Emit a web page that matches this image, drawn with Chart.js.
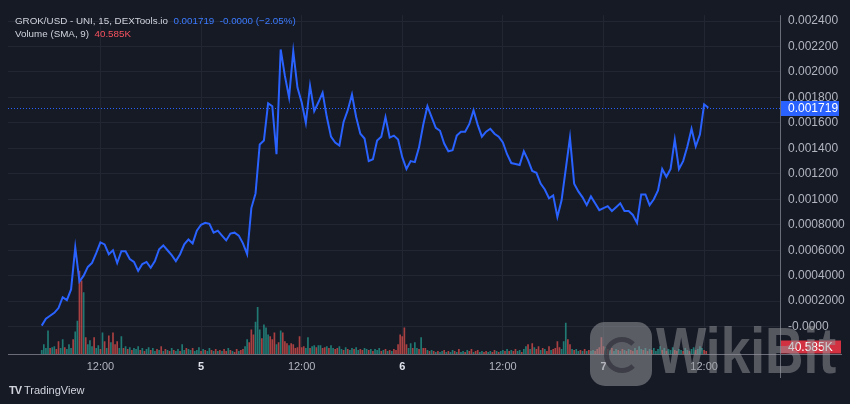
<!DOCTYPE html>
<html>
<head>
<meta charset="utf-8">
<script src="https://cdn.jsdelivr.net/npm/chart.js@4"></script>
<style>
  html, body { margin: 0; padding: 0; background: #161a25; }
  #wrap { position: relative; width: 850px; height: 404px; overflow: hidden; }
  #chart { position: absolute; left: 0; top: 0; }
  .txt { position: absolute; white-space: nowrap; font-family: "Liberation Sans", Arial, sans-serif; font-size: 9.8px; color: #d1d4dc; }
  .blue { color: #3b7bff; }
  .red { color: #f7525f; }
  #wm-icon { position: absolute; left: 590px; top: 322px; width: 62px; height: 64px; border-radius: 15px; background: rgba(150,150,155,0.55); }
  #wm-icon div { position: absolute; left: 14px; top: 15px; width: 26px; height: 26px; border: 5px solid rgba(40,42,50,0.6); border-radius: 50%; border-right-color: transparent; }
  #wm-text { position: absolute; left: 656px; top: 313px; font: bold 65px "Liberation Sans", Arial, sans-serif; color: rgba(150,150,155,0.5); transform: scaleX(0.82); transform-origin: 0 0; }
</style>
</head>
<body>
<div id="wrap">
  <canvas id="chart" width="850" height="404"></canvas>
  <div class="txt" style="left:15px;top:15px">GROK/USD - UNI, 15, DEXTools.io &nbsp;<span class="blue">0.001719 &nbsp;-0.0000 (−2.05%)</span></div>
  <div class="txt" style="left:15px;top:28px">Volume (SMA, 9) &nbsp;<span class="red">40.585K</span></div>
  <div class="txt" style="left:9px;top:384px;font-size:11px"><b style="letter-spacing:-1px">TV</b> TradingView</div>
  <div id="wm-icon"><div></div></div>
  <div id="wm-text">WikiBit</div>
</div>
<script>
// 15m chart, 4-7 Nov. x axis in hours since 4 Nov 00:00
const startHour = 5;
const priceStep = 0.5;   // one reading every 30 min
const prices = [
  0.000008,0.000062,0.000085,0.000108,0.000146,0.000231,0.000208,0.000292,0.000623,0.000354,
  0.000400,0.000469,0.000500,0.000577,0.000662,0.000646,0.000569,0.000600,0.000500,0.000592,
  0.000592,0.000531,0.000508,0.000438,0.000492,0.000508,0.000462,0.000515,0.000608,0.000638,
  0.000600,0.000562,0.000515,0.000569,0.000646,0.000685,0.000654,0.000754,0.000800,0.000815,
  0.000808,0.000738,0.000754,0.000715,0.000677,0.000731,0.000738,0.000715,0.000654,0.000569,
  0.000931,0.001046,0.001431,0.001462,0.001754,0.001731,0.001354,0.002177,0.001969,0.001800,
  0.002162,0.001877,0.001762,0.001600,0.001892,0.001692,0.001762,0.001838,0.001646,0.001492,
  0.001446,0.001423,0.001608,0.001700,0.001823,0.001646,0.001515,0.001477,0.001300,0.001315,
  0.001462,0.001492,0.001646,0.001485,0.001500,0.001469,0.001331,0.001238,0.001300,0.001292,
  0.001408,0.001585,0.001731,0.001646,0.001562,0.001538,0.001438,0.001377,0.001385,0.001500,
  0.001531,0.001531,0.001592,0.001700,0.001585,0.001492,0.001531,0.001554,0.001515,0.001492,
  0.001446,0.001354,0.001285,0.001277,0.001269,0.001377,0.001308,0.001223,0.001208,0.001123,
  0.001077,0.001008,0.001031,0.000862,0.000992,0.001238,0.001485,0.001123,0.001062,0.001015,
  0.000954,0.001023,0.000969,0.000915,0.000931,0.000946,0.000908,0.000938,0.000969,0.000908,
  0.000908,0.000877,0.000815,0.001038,0.001038,0.000954,0.001000,0.001069,0.001238,0.001177,
  0.001238,0.001469,0.001238,0.001300,0.001415,0.001554,0.001415,0.001508,0.001746,0.001719
];

const volStep = 0.25;    // 15 min bars
// volume in K
const volumes = [
  32,80,48,192,48,56,64,40,104,48, 120,56,40,80,48,120,184,272,680,600,
  504,136,80,112,64,136,48,72,40,176, 104,48,152,96,176,80,104,48,144,48,
  64,40,56,32,48,40,64,32,48,24, 40,56,32,48,24,40,32,64,24,40,
  32,24,48,32,24,40,24,80,32,48, 40,32,48,24,32,56,24,40,32,24,
  48,32,24,40,24,32,24,40,24,48, 32,24,16,40,24,32,40,64,120,96,
  200,160,264,384,200,128,240,216,160,144, 120,176,80,96,192,176,104,88,72,88,
  80,48,56,144,56,64,48,136,48,64, 72,56,72,72,48,56,64,48,72,48,
  40,48,64,40,32,56,40,32,48,40, 56,32,40,32,48,40,32,40,24,40,
  32,48,24,32,40,24,32,24,40,32, 80,160,144,216,80,48,88,48,96,48,
  40,136,48,48,32,24,32,24,16,24, 16,24,32,16,24,16,32,24,16,40,
  16,24,16,32,24,40,16,24,32,16, 24,16,24,16,24,16,32,24,16,24,
  32,24,40,24,32,24,40,24,32,16, 40,64,80,40,88,56,40,64,32,48,
  40,24,64,32,40,48,104,56,40,104, 256,120,80,40,32,40,24,32,24,40,
  24,32,24,32,24,40,56,136,64,56, 40,32,48,24,40,32,24,40,32,24,
  40,32,24,48,32,64,40,32,48,24, 40,32,48,24,40,64,32,48,24,40,
  32,56,32,24,40,32,24,48,32,24, 40,56,32,40,64,48,32,24
];
// G = up candle, R = down candle
const volDirs = (
  'GGGGRGGRRG' + 'GRGGGRGGRR' + 'GRGGGRGGRG' + 'RGRGRRRGGR' + 'GRGRGGGRGR' +
  'GGRGGRGRGR' + 'GRGRGGRGGR' + 'GGRGGGRGRG' + 'GRGRGRGRRG' + 'RGRRGRRGGR' +
  'RRGGGRGGGR' + 'RRGRGRRRGR' + 'RRRRRRGGRG' + 'GRGGRRGRGG' + 'RRGGRGRGGR' +
  'GGRRGGRGRG' + 'GGRGRGRGRR' + 'RRRRRGGRGG' + 'RGRRGRGRGR' + 'GGRGRGGRGR' +
  'GGRGRRGRRG' + 'GRRGGRRGRG' + 'GRGRGRRGGR' + 'GGRGRGRRGR' + 'GRRGRRRRGG' +
  'GRRGRGGRGR' + 'GRGGRRRRRG' + 'RGRGGRGRGR' + 'GRRGRGGRGR' + 'GRGGGGRGRG' +
  'GGRRGGRGGR' + 'GGRGGGRR'
).split('');

const xTicks = [12, 24, 36, 48, 60, 72, 84];
const xTickLabels = ['12:00', '5', '12:00', '6', '12:00', '7', '12:00'];
const yTicks = [0, 0.0002, 0.0004, 0.0006, 0.0008, 0.001, 0.0012, 0.0014, 0.0016, 0.0018, 0.002, 0.0022, 0.0024];
const yTickLabels = ['-0.0000', '0.0002000', '0.0004000', '0.0006000', '0.0008000', '0.001000', '0.001200',
  '0.001400', '0.001600', '0.001800', '0.002000', '0.002200', '0.002400'];
const lastPrice = 0.001719;
const lastPriceLabel = '0.001719';
const volSma = 40.585;
const volSmaLabel = '40.585K';

const priceData = prices.map((p, i) => ({ x: startHour + i * priceStep, y: p }));
const volData = volumes.map((v, i) => ({ x: startHour + i * volStep, y: v }));
const volColors = volDirs.map(d => d === 'G' ? 'rgba(38,166,154,0.68)' : 'rgba(239,83,80,0.68)');

const FONT = '"Liberation Sans", Arial, sans-serif';

const overlay = {
  id: 'overlay',
  afterDatasetsDraw(chart) {
    const c = chart.ctx, a = chart.chartArea;
    const y = chart.scales.y, v = chart.scales.v;
    c.save();
    // current price dotted line
    const py = Math.round(y.getPixelForValue(lastPrice)) + 0.5;
    c.strokeStyle = '#2962ff';
    c.lineWidth = 1;
    c.setLineDash([1, 2]);
    c.beginPath(); c.moveTo(a.left, py); c.lineTo(a.right, py); c.stroke();
    c.setLineDash([]);
    // separators
    c.strokeStyle = '#6a6d78';
    c.beginPath(); c.moveTo(a.right + 0.5, a.top); c.lineTo(a.right + 0.5, a.bottom + 24); c.stroke();
    c.beginPath(); c.moveTo(a.left, a.bottom + 0.5); c.lineTo(a.right + 62, a.bottom + 0.5); c.stroke();
    // price tag
    c.fillStyle = '#2962ff';
    c.fillRect(a.right + 1, py - 7.5, 58, 15);
    c.fillStyle = '#ffffff';
    c.font = '12px ' + FONT;
    c.textBaseline = 'middle';
    c.fillText(lastPriceLabel, a.right + 8, py + 0.5);
    // volume sma tag
    const vy = Math.min(v.getPixelForValue(volSma), a.bottom - 7);
    c.fillStyle = 'rgba(242,54,69,0.85)';
    c.fillRect(a.right + 1, vy - 6.5, 60, 13);
    c.fillStyle = '#ffffff';
    c.fillText(volSmaLabel, a.right + 8, vy + 0.5);
    c.restore();
  }
};

new Chart(document.getElementById('chart'), {
  data: {
    datasets: [
      {
        type: 'line', data: priceData, yAxisID: 'y', order: 0,
        borderColor: '#2962ff', borderWidth: 2, pointRadius: 0, tension: 0
      },
      {
        type: 'bar', data: volData, yAxisID: 'v', order: 1,
        backgroundColor: volColors, barPercentage: 0.8, categoryPercentage: 1
      }
    ]
  },
  options: {
    responsive: false,
    animation: false,
    layout: { padding: { left: 8, top: 8, right: 0, bottom: 26 } },
    plugins: { legend: { display: false }, tooltip: { enabled: false } },
    scales: {
      x: {
        type: 'linear', min: 0.978, max: 93.05, offset: false,
        afterBuildTicks: s => { s.ticks = xTicks.map(t => ({ value: t })); },
        afterFit: s => { s.height = 24; },
        ticks: {
          autoSkip: false, maxRotation: 0, padding: 6,
          callback: (val, i) => xTickLabels[i],
          color: ctx => xTickLabels[ctx.index] === '12:00' ? '#b2b5be' : '#e0e3eb',
          font: ctx => ({ family: FONT, size: 11, weight: xTickLabels[ctx.index] === '12:00' ? 'normal' : 'bold' })
        },
        grid: { color: '#222633', drawTicks: false, offset: false },
        border: { display: false }
      },
      y: {
        position: 'right', min: -0.000215, max: 0.002446,
        afterBuildTicks: s => { s.ticks = yTicks.map(t => ({ value: t })); },
        afterFit: s => { s.width = 70; },
        ticks: {
          padding: 8, color: '#b2b5be', font: { family: FONT, size: 12 },
          callback: (val, i) => yTickLabels[i]
        },
        grid: { color: '#222633', drawTicks: false },
        border: { display: false }
      },
      v: { display: false, min: 0, max: 2768 }
    }
  },
  plugins: [overlay]
});
</script>
</body>
</html>
